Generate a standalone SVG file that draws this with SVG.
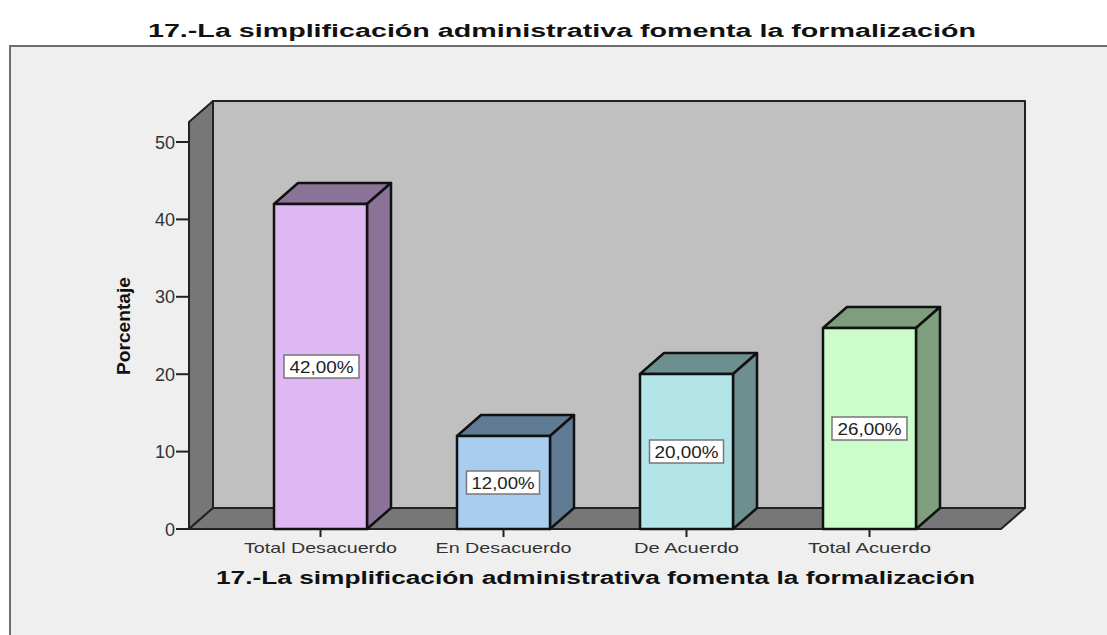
<svg xmlns="http://www.w3.org/2000/svg" width="1107" height="635" viewBox="0 0 1107 635">
<style>
.title{font-family:"Liberation Sans",Arial,sans-serif;font-weight:bold;font-size:18px;fill:#111}
.tick{font-family:"Liberation Sans",Arial,sans-serif;font-size:18px;fill:#333}
.cat{font-family:"Liberation Sans",Arial,sans-serif;font-size:15px;fill:#333}
.ylab{font-family:"Liberation Sans",Arial,sans-serif;font-weight:bold;font-size:19px;fill:#111}
.val{font-family:"Liberation Sans",Arial,sans-serif;font-size:17px;fill:#222}
.edge{stroke:#111;stroke-width:2.5;stroke-linejoin:round}
.wall{stroke:#222;stroke-width:2;stroke-linejoin:round}
.box{fill:#fff;stroke:#777;stroke-width:1.5}
.axis{stroke:#222;stroke-width:2}
</style>
<rect width="1107" height="635" fill="#fff"/>
<text class="title" x="562" y="37" text-anchor="middle" textLength="828" lengthAdjust="spacingAndGlyphs">17.-La simplificación administrativa fomenta la formalización</text>
<rect x="10" y="46" width="1110" height="600" fill="#efefef" stroke="#6e6e6e" stroke-width="2"/>
<g id="walls">
<rect class="wall" x="213" y="101" width="812" height="407" fill="#c0c0c0"/>
<polygon class="wall" points="189,122 213,101 213,508 189,529" fill="#777"/>
<polygon class="wall" points="189,529 213,508 1025,508 1001,529" fill="#777"/>
</g>
<g id="yaxis">
<line class="axis" x1="176" y1="529" x2="189" y2="529"/>
<line class="axis" x1="176" y1="451.6" x2="189" y2="451.6"/>
<line class="axis" x1="176" y1="374.2" x2="189" y2="374.2"/>
<line class="axis" x1="176" y1="296.8" x2="189" y2="296.8"/>
<line class="axis" x1="176" y1="219.4" x2="189" y2="219.4"/>
<line class="axis" x1="176" y1="142" x2="189" y2="142"/>
<text class="tick" x="175" y="535.5" text-anchor="end">0</text>
<text class="tick" x="175" y="458" text-anchor="end">10</text>
<text class="tick" x="175" y="380.7" text-anchor="end">20</text>
<text class="tick" x="175" y="303.3" text-anchor="end">30</text>
<text class="tick" x="175" y="225.9" text-anchor="end">40</text>
<text class="tick" x="175" y="148.5" text-anchor="end">50</text>
<text class="ylab" transform="translate(130,326) rotate(-90)" text-anchor="middle" textLength="98" lengthAdjust="spacingAndGlyphs">Porcentaje</text>
</g>
<g id="bar1">
<polygon class="edge" points="274,204 298,183 391,183 367,204" fill="#8a7396"/>
<polygon class="edge" points="367,204 391,183 391,508 367,529" fill="#8a7396"/>
<rect class="edge" x="274" y="204" width="93" height="325" fill="#dfb8f3"/>
<rect class="box" x="284" y="355" width="75" height="23"/>
<text class="val" x="321.5" y="372.5" text-anchor="middle" textLength="64" lengthAdjust="spacingAndGlyphs">42,00%</text>
</g>
<g id="bar2">
<polygon class="edge" points="457,436 481,415 574,415 550,436" fill="#5f7b94"/>
<polygon class="edge" points="550,436 574,415 574,508 550,529" fill="#5f7b94"/>
<rect class="edge" x="457" y="436" width="93" height="93" fill="#a9cdef"/>
<rect class="box" x="466.5" y="471" width="73" height="23"/>
<text class="val" x="503" y="488.5" text-anchor="middle" textLength="63" lengthAdjust="spacingAndGlyphs">12,00%</text>
</g>
<g id="bar3">
<polygon class="edge" points="640,374 664,353 757,353 733,374" fill="#6e8f90"/>
<polygon class="edge" points="733,374 757,353 757,508 733,529" fill="#6e8f90"/>
<rect class="edge" x="640" y="374" width="93" height="155" fill="#b3e4e8"/>
<rect class="box" x="649.5" y="440" width="74" height="23"/>
<text class="val" x="686.5" y="457.5" text-anchor="middle" textLength="64" lengthAdjust="spacingAndGlyphs">20,00%</text>
</g>
<g id="bar4">
<polygon class="edge" points="823,328 847,307 940,307 916,328" fill="#7e9e7e"/>
<polygon class="edge" points="916,328 940,307 940,508 916,529" fill="#7e9e7e"/>
<rect class="edge" x="823" y="328" width="93" height="201" fill="#ccfccb"/>
<rect class="box" x="832" y="417" width="75" height="23"/>
<text class="val" x="869.5" y="434.5" text-anchor="middle" textLength="64" lengthAdjust="spacingAndGlyphs">26,00%</text>
</g>
<g id="xaxis">
<line class="axis" x1="320.5" y1="529" x2="320.5" y2="537"/>
<line class="axis" x1="503.5" y1="529" x2="503.5" y2="537"/>
<line class="axis" x1="686.5" y1="529" x2="686.5" y2="537"/>
<line class="axis" x1="869.5" y1="529" x2="869.5" y2="537"/>
<text class="cat" x="320.5" y="553" text-anchor="middle" textLength="153" lengthAdjust="spacingAndGlyphs">Total Desacuerdo</text>
<text class="cat" x="503.5" y="553" text-anchor="middle" textLength="136" lengthAdjust="spacingAndGlyphs">En Desacuerdo</text>
<text class="cat" x="686.5" y="553" text-anchor="middle" textLength="105" lengthAdjust="spacingAndGlyphs">De Acuerdo</text>
<text class="cat" x="869.5" y="553" text-anchor="middle" textLength="123" lengthAdjust="spacingAndGlyphs">Total Acuerdo</text>
<text class="title" x="595.5" y="584" text-anchor="middle" textLength="759" lengthAdjust="spacingAndGlyphs">17.-La simplificación administrativa fomenta la formalización</text>
</g>
</svg>
